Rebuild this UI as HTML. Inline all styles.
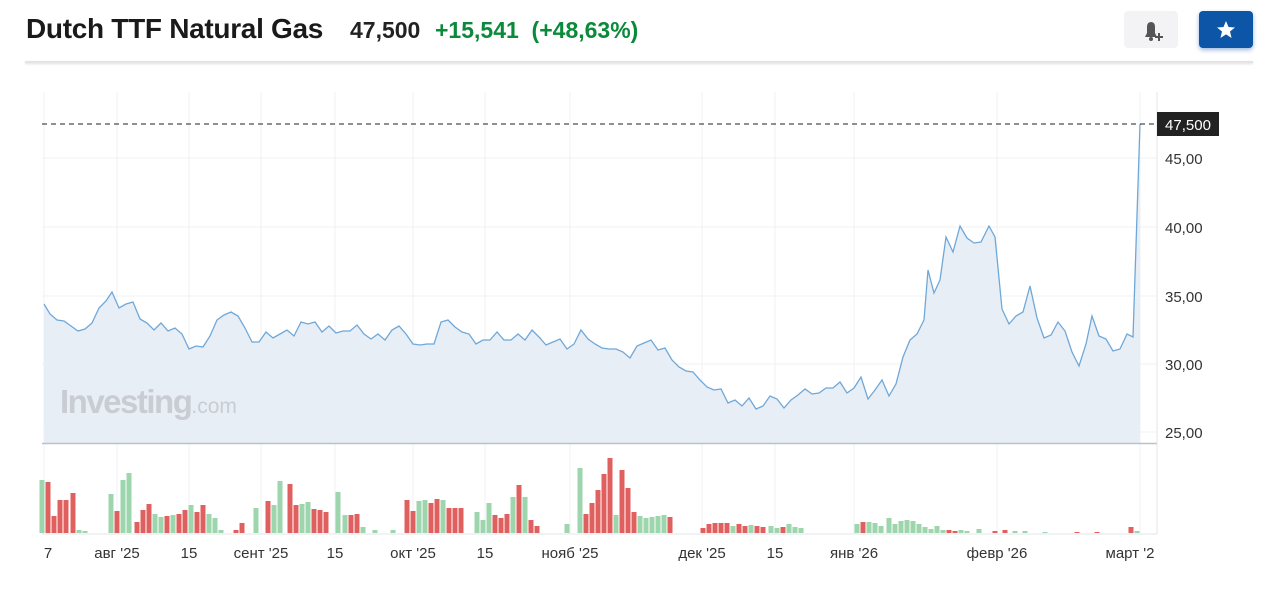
<!DOCTYPE html>
<html><head><meta charset="utf-8">
<style>
body{margin:0;width:1280px;height:614px;background:#fff;font-family:"Liberation Sans",sans-serif;overflow:hidden;position:relative}
.h{position:absolute;top:13px;left:26px;font-size:28px;font-weight:bold;color:#1a1a1a;letter-spacing:-0.3px}
.p{position:absolute;top:17px;left:350px;font-size:23px;font-weight:bold;color:#222}
.c{position:absolute;top:17px;left:435px;font-size:23px;font-weight:bold;color:#0a8a3a}
.sep{position:absolute;top:61px;left:25px;width:1228px;height:2px;background:#e4e4e4;box-shadow:0 1px 2px #ddd}
.b1{position:absolute;left:1124px;top:11px;width:54px;height:37px;background:#f3f3f5;border-radius:4px}
.b2{position:absolute;left:1199px;top:11px;width:54px;height:37px;background:#0d55a6;border-radius:4px;box-shadow:0 2px 5px #9bb8dc}
svg{position:absolute;left:0;top:0}
</style></head><body>
<div class="h">Dutch TTF Natural Gas</div>
<div class="p">47,500</div>
<div class="c">+15,541&nbsp; (+48,63%)</div>
<div class="sep"></div>
<div class="b1"><svg width="54" height="37"><path d="M21 26 L33 26 L31 22 L31 16 Q31 11 27 11 Q23 11 23 16 L23 22 Z" fill="#555"/><circle cx="27" cy="28" r="2" fill="#555"/><path d="M31 26h8M35 22v8" stroke="#555" stroke-width="2"/></svg></div>
<div class="b2"><svg width="54" height="37"><polygon points="27,10 29.5,16 36,16.5 31,20.5 32.6,27 27,23.4 21.4,27 23,20.5 18,16.5 24.5,16" fill="#fff"/></svg></div>
<svg id="s" width="1280" height="614" xmlns="http://www.w3.org/2000/svg"></svg>
<script>
var s=document.getElementById('s'),h='';
var gx=[44,117,189,261,335,413,485,570,702,775,854,997,1140];
gx.forEach(function(x){h+='<line x1="'+x+'" y1="92" x2="'+x+'" y2="534" stroke="#eef0f3"/>';});
[158,227,296,364,432].forEach(function(y){h+='<line x1="42" y1="'+y+'" x2="1157" y2="'+y+'" stroke="#eef0f3"/>';});
var p=[44,304,50,314,57,320,64,321,71,326,78,331,85,329,92,323,99,308,106,301,112,292,119,308,126,304,133,302,140,319,147,323,154,330,161,323,168,331,175,328,182,334,189,349,196,346,203,347,210,336,217,320,224,315,231,312,238,316,245,328,252,342,259,342,266,332,273,338,280,334,287,330,294,336,301,322,308,324,315,322,322,332,329,326,336,333,343,331,350,331,357,325,364,334,371,339,378,334,385,340,392,330,399,326,406,334,413,344,420,345,427,344,434,344,441,322,448,320,455,327,462,332,469,334,476,344,483,340,490,340,497,332,504,340,511,340,518,334,525,340,532,330,539,337,546,345,553,342,560,339,567,349,574,344,581,330,588,339,595,344,602,348,609,349,616,349,623,352,630,358,637,346,644,343,651,340,658,350,665,348,672,360,679,367,686,371,693,372,700,380,707,387,714,390,721,389,728,403,735,400,742,406,749,398,756,409,763,406,770,396,777,399,784,408,791,400,798,395,805,389,812,394,819,393,826,388,833,388,840,382,847,393,854,388,861,377,868,399,875,390,882,380,889,396,896,384,903,357,910,340,917,334,924,320,928,270,934,293,940,280,946,237,953,252,960,226,967,238,974,243,981,242,989,226,995,237,1002,309,1009,324,1016,316,1023,312,1030,286,1037,318,1044,338,1051,335,1058,322,1065,331,1072,352,1079,366,1086,344,1092,316,1099,336,1106,339,1113,351,1120,349,1127,334,1133,337,1140,124];
var d='';for(var i=0;i<p.length;i+=2)d+=(i?'L':'M')+p[i]+' '+p[i+1];
h+='<path d="'+d+'L1140 443L44 443Z" fill="#e8eef6"/>';
h+='<path d="'+d+'" fill="none" stroke="#6fa8d8" stroke-width="1.3"/>';
h+='<line x1="42" y1="443.5" x2="1157" y2="443.5" stroke="#b9c2cc" stroke-width="1.5"/>';
h+='<line x1="1157" y1="92" x2="1157" y2="534" stroke="#e2e4e8"/>';
h+='<line x1="42" y1="534" x2="1157" y2="534" stroke="#e2e4e8"/>';
h+='<line x1="42" y1="124" x2="1157" y2="124" stroke="#222" stroke-dasharray="5,4"/>';
h+='<rect x="1157" y="112" width="62" height="24" fill="#222"/><text x="1188" y="130" fill="#fff" font-size="15" text-anchor="middle">47,500</text>';
[['45,00',158],['40,00',227],['35,00',296],['30,00',364],['25,00',432]].forEach(function(t){h+='<text x="1165" y="'+(t[1]+6)+'" font-size="15" fill="#333">'+t[0]+'</text>';});
h+='<text x="60" y="413" font-size="33" font-weight="bold" fill="#c9ccd2" letter-spacing="-1.5">Investing<tspan font-size="21" font-weight="normal" letter-spacing="0">.com</tspan></text>';
var v='42g480 48r482 54r516 60r500 66r500 73r493 79g530 85g531 111g494 117r511 123g480 129g473 137r522 143r510 149r504 155g514 161g517 167r516 173g515 179r514 185r510 191g505 197r512 203r505 209g514 215g518 221g530 236r530 242r523 256g508 268r501 274g505 280g481 290r484 296r505 302g504 308g502 314r509 320r510 326r512 338g492 345g515 351r515 357r514 363g527 375g530 393g530 407r500 413r511 419g501 425g500 431r503 437r499 443g500 449r508 455r508 461r508 477g512 483g520 489g503 495r515 501r518 507r514 513g497 519r485 525g497 531r520 537r526 567g524 580g468 586r514 592r503 598r490 604r474 610r458 616g515 622r470 628r488 634r512 640g516 646g518 652g517 658g516 664g515 670r517 703r528 709r524 715r523 721r523 727r523 733g526 739r524 745r526 751g525 757r526 763r527 771g526 777g528 783r527 789g524 795g527 801g528 857g524 863r522 869g522 875g523 881g526 889g518 895g524 901g521 907g520 913g521 919g524 925g527 931g529 937g526 943g530 949r530 955r531 961g530 967g531 979g529 995r531 1005r530 1015g531 1025g531 1045g532 1077r532 1097r532 1131r527 1137g531'.split(' ');
v.forEach(function(b){var m=b.match(/(\d+)([gr])(\d+)/);var x=+m[1],y=+m[3];h+='<rect x="'+(x-2.5)+'" y="'+y+'" width="5" height="'+(533-y)+'" fill="'+(m[2]=='g'?'#9dd6ad':'#e06060')+'"/>';});
[['7',48],['авг \'25',117],['15',189],['сент \'25',261],['15',335],['окт \'25',413],['15',485],['нояб \'25',570],['дек \'25',702],['15',775],['янв \'26',854],['февр \'26',997],['март \'2',1130]].forEach(function(t){h+='<text x="'+t[1]+'" y="558" font-size="15" fill="#333" text-anchor="middle">'+t[0]+'</text>';});
s.innerHTML=h;
</script>
</body></html>
